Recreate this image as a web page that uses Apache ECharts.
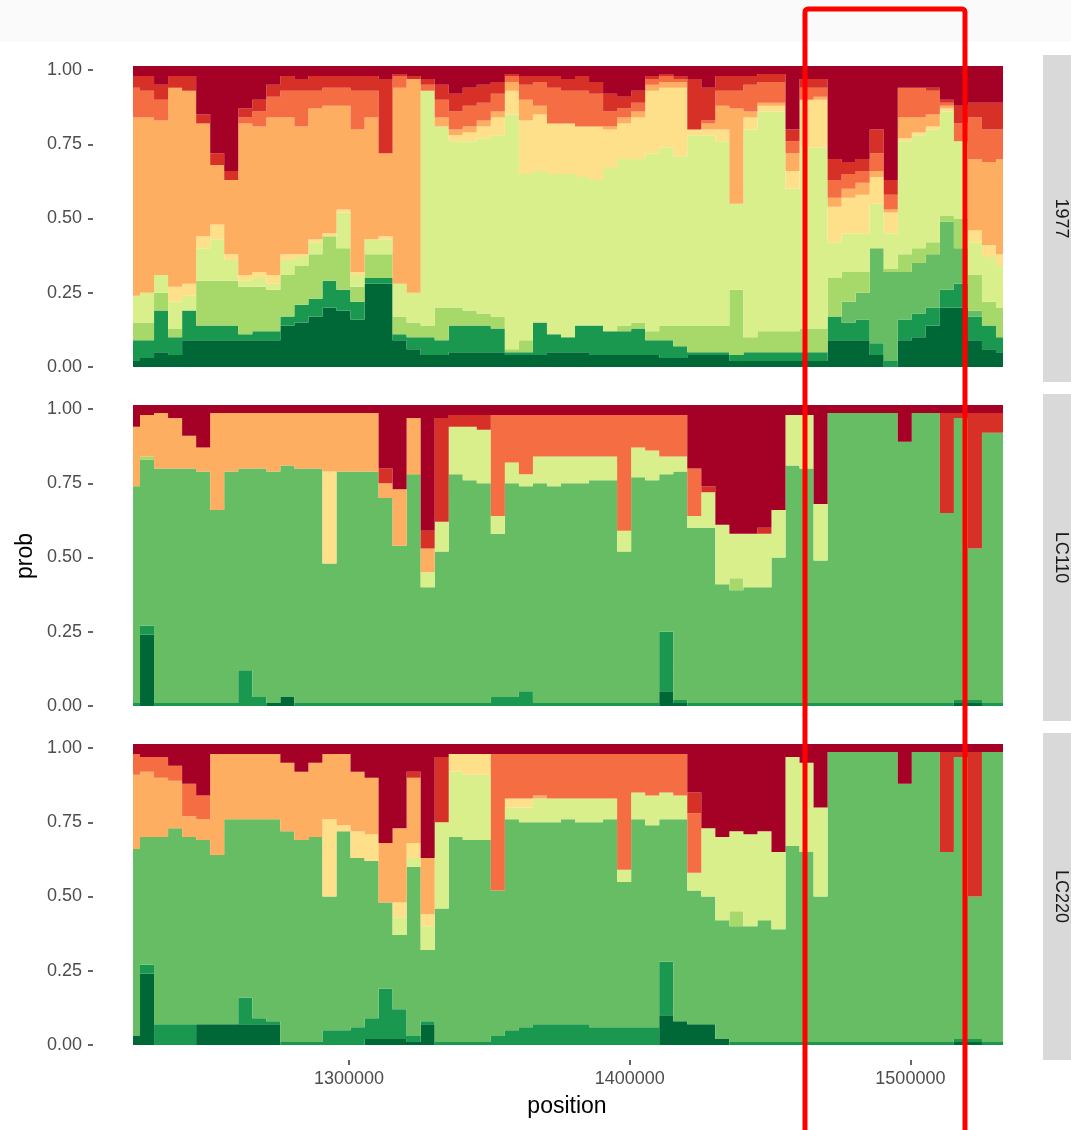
<!DOCTYPE html>
<html><head><meta charset="utf-8">
<script src="https://cdn.jsdelivr.net/npm/echarts@6/dist/echarts.min.js"></script>
<style>html,body{margin:0;padding:0;background:#fff}#c{width:1071px;height:1130px}</style>
</head><body><div id="c"></div>
<script>
// sample positions (bp)
const positions = [1223000,1228000,1233000,1238000,1243000,1248000,1253000,1258000,1263000,1268000,
1273000,1278000,1283000,1288000,1293000,1298000,1303000,1308000,1313000,1318000,
1323000,1328000,1333000,1338000,1343000,1348000,1353000,1358000,1363000,1368000,
1373000,1378000,1383000,1388000,1393000,1398000,1403000,1408000,1413000,1418000,
1423000,1428000,1433000,1438000,1443000,1448000,1453000,1458000,1463000,1468000,
1473000,1478000,1483000,1488000,1493000,1498000,1503000,1508000,1513000,1518000,
1523000,1528000,1533000];
const facets = ['1977','LC110','LC220'];
const colors = ['#006837','#1a9850','#66bd63','#a6d96a','#d9ef8b','#fee08b','#fdae61','#f46d43','#d73027','#a50026'];
const yTicks = [0,0.25,0.5,0.75,1];
const xTicks = [1300000,1400000,1500000];

// prob (percent), component 0 (bottom, dark green) ... component 9 (top, dark red)
const v1977_0 = [2,3,5,4,9,9,9,9,9,9, 9,14,15,17,20,19,16,28,28,9, 6,4,4,5,5,5,5,4,4,4, 5,5,5,4,4,4,4,4,3,3, 4,4,4,2,2,2,2,2,2,2, 9,9,9,4,0,9,10,14,20,20, 9,6,5];
const v1977_1 = [7,6,14,6,10,5,5,5,2,3, 3,3,6,6,9,7,6,2,2,2, 4,6,5,9,9,9,8,1,1,11, 6,5,9,10,8,8,9,5,6,4, 1,1,1,2,3,3,3,3,3,3, 8,6,7,4,2,7,8,6,6,8, 8,8,5];
const v1977_2 = [0,0,0,0,0,0,0,0,0,0, 0,0,0,0,0,0,0,0,0,0, 0,0,0,0,0,0,0,0,0,0, 0,0,0,0,0,0,0,0,0,0, 0,0,0,0,0,0,0,0,0,0, 0,7,9,32,30,16,17,18,23,12, 2,0,0];
const v1977_3 = [6,6,6,3,0,15,15,15,16,15, 14,14,13,15,15,14,5,8,8,6, 5,4,11,6,5,4,4,1,4,0, 0,0,0,0,0,2,2,3,5,7, 9,9,9,22,5,7,7,7,8,8, 13,10,7,0,1,6,5,4,2,10, 12,8,10];
const v1977_4 = [9,10,6,9,5,11,14,7,2,3, 2,5,3,4,0,12,4,5,5,11, 10,79,61,56,57,59,61,79,56,51, 54,55,50,49,55,56,55,60,60,57, 64,64,62,29,70,74,74,48,61,61, 12,13,13,15,12,38,38,38,35,26, 11,15,14];
const v1977_5 = [0,0,0,5,4,4,5,2,2,2, 3,2,1,1,1,1,1,0,1,0, 0,0,0,2,3,4,6,8,18,19, 17,17,17,18,13,12,14,21,20,23, 2,2,4,0,4,2,2,6,16,16, 12,12,13,9,7,1,1,1,1,0, 4,4,4];
const v1977_6 = [60,59,52,67,65,38,20,25,51,49, 53,46,43,44,43,35,48,41,28,66, 72,0,3,2,2,2,2,3,7,3, 0,0,0,0,1,2,2,2,2,2, 0,2,8,32,2,1,1,6,0,1, 3,3,4,2,1,7,5,4,1,0, 24,28,32];
const v1977_7 = [10,9,7,0,0,0,0,0,2,5, 7,9,12,6,6,6,13,9,0,4, 0,2,6,6,7,6,6,2,5,8, 12,11,12,11,5,3,3,2,2,1, 0,1,5,6,9,7,7,4,4,3, 6,5,4,6,5,10,10,8,1,6, 14,11,10];
const v1977_8 = [4,5,5,4,5,3,4,3,3,4, 4,5,4,5,4,4,5,5,25,1, 1,2,5,6,6,6,4,1,3,2, 4,4,5,4,6,4,4,1,1,1, 17,11,5,5,3,3,3,4,3,3, 7,4,4,8,5,0,0,1,1,6, 5,9,9];
const v1977_9 = [2,2,5,2,2,15,28,34,13,10, 5,2,3,2,2,2,2,2,3,1, 2,3,5,8,6,5,4,1,2,2, 2,3,2,4,8,9,7,2,1,2, 3,6,2,2,2,1,1,20,3,3, 30,31,30,20,37,6,6,6,10,12, 11,11,11];

const vLC110_0 = [0,24,0,0,0,0,0,0,0,0, 1,3,0,0,0,0,0,0,0,0, 0,0,0,0,0,0,0,0,0,0, 0,0,0,0,0,0,0,0,5,1, 0,0,0,0,0,0,0,0,0,0, 0,0,0,0,0,0,0,0,0,1, 1,0,0];
const vLC110_1 = [1,3,1,1,1,1,1,1,12,3, 0,0,1,1,1,1,1,1,1,1, 1,1,1,1,1,1,3,3,5,1, 1,1,1,1,1,1,1,1,20,1, 1,1,1,1,1,1,1,1,1,1, 1,1,1,1,1,1,1,1,1,1, 1,1,1];
const vLC110_2 = [73,56,79,79,79,78,65,78,68,77, 78,78,79,79,47,78,78,78,69,53, 77,39,51,77,75,74,55,72,69,74, 73,74,74,75,75,51,76,75,53,77, 59,59,40,38,39,39,49,80,79,48, 98,98,98,98,98,88,98,98,64,95, 51,91,91];
const vLC110_3 = [0,1,0,0,0,0,0,0,0,0, 0,0,0,0,0,0,0,0,0,0, 0,0,0,0,0,0,0,0,0,0, 0,0,0,0,0,0,0,0,0,0, 0,0,0,4,0,0,0,0,0,0, 0,0,0,0,0,0,0,0,0,0, 0,0,0];
const vLC110_4 = [0,0,0,0,0,0,0,0,0,0, 0,0,0,0,0,0,0,0,0,0, 0,5,10,16,18,18,6,7,4,9, 10,9,9,8,8,7,10,10,6,5, 4,12,20,15,18,18,16,17,18,19, 0,0,0,0,0,0,0,0,0,0, 0,0,0];
const vLC110_5 = [0,0,0,0,0,0,0,0,0,0, 0,0,0,0,31,0,0,0,0,0, 0,0,0,0,0,0,0,0,0,0, 0,0,0,0,0,0,0,0,0,0, 0,0,0,0,0,0,0,0,0,0, 0,0,0,0,0,0,0,0,0,0, 0,0,0];
const vLC110_6 = [20,14,19,17,11,8,33,20,19,19, 20,18,19,19,20,20,20,20,5,19, 19,8,0,0,0,0,0,0,0,0, 0,0,0,0,0,0,0,0,0,0, 0,0,0,0,0,0,0,0,0,0, 0,0,0,0,0,0,0,0,0,0, 0,0,0];
const vLC110_7 = [0,0,0,0,0,0,0,0,0,0, 0,0,0,0,0,0,0,0,0,0, 0,0,0,0,0,0,34,16,20,14, 14,14,14,14,14,39,11,12,14,14, 16,0,0,0,0,0,0,0,0,0, 0,0,0,0,0,0,0,0,0,0, 0,0,0];
const vLC110_8 = [0,0,0,0,0,0,0,0,0,0, 0,0,0,0,0,0,0,0,5,0, 0,6,35,4,4,5,0,0,0,0, 0,0,0,0,0,0,0,0,0,0, 0,2,0,0,0,2,0,0,0,0, 0,0,0,0,0,0,0,0,34,2, 46,7,7];
const vLC110_9 = [6,2,1,3,9,13,1,1,1,1, 1,1,1,1,1,1,1,1,20,27, 3,41,3,2,2,2,2,2,2,2, 2,2,2,2,2,2,2,2,2,2, 20,26,39,42,42,40,34,2,2,32, 1,1,1,1,1,11,1,1,1,1, 1,1,1];

const vLC220_0 = [3,24,0,0,0,7,7,7,7,7, 7,0,0,0,0,0,0,2,2,2, 1,7,0,0,0,0,0,0,0,0, 0,0,0,0,0,0,0,0,10,8, 7,7,2,0,0,0,0,0,0,0, 0,0,0,0,0,0,0,0,0,1, 1,0,0];
const vLC220_1 = [0,3,7,7,7,0,0,0,9,2, 1,1,1,1,5,5,6,7,17,10, 2,1,1,1,1,1,3,5,6,7, 7,7,7,6,6,6,6,6,18,0, 0,0,0,1,1,1,1,1,1,1, 1,1,1,1,1,1,1,1,1,1, 1,1,1];
const vLC220_2 = [63,43,63,66,63,62,57,69,60,67, 68,71,68,69,45,67,57,53,29,25, 57,24,45,69,68,68,49,71,69,68, 68,69,68,69,70,49,70,68,48,68, 45,43,40,39,39,41,38,66,64,49, 98,98,98,98,98,87,98,98,64,95, 48,98,98];
const vLC220_3 = [0,0,0,0,0,0,0,0,0,0, 0,0,0,0,0,0,0,0,0,0, 0,0,0,0,0,0,0,0,0,0, 0,0,0,0,0,0,0,0,0,0, 0,0,0,5,0,0,0,0,0,0, 0,0,0,0,0,0,0,0,0,0, 0,0,0];
const vLC220_4 = [0,0,0,0,0,0,0,0,0,0, 0,0,0,0,0,0,0,0,0,6, 3,8,29,22,22,22,0,4,5,8, 8,7,8,8,7,4,9,10,9,8, 6,23,28,27,31,30,26,30,30,30, 0,0,0,0,0,0,0,0,0,0, 0,0,0];
const vLC220_5 = [0,0,0,0,0,0,0,0,0,0, 0,0,0,0,26,2,9,9,0,5, 5,4,0,6,7,7,0,3,3,0, 0,0,0,0,0,0,0,0,0,0, 0,0,0,0,0,0,0,0,0,0, 0,0,0,0,0,0,0,0,0,0, 0,0,0];
const vLC220_6 = [25,22,20,16,7,7,34,22,22,22, 22,23,23,25,22,24,20,19,20,25, 22,19,0,0,0,0,0,0,0,1, 0,0,0,0,0,0,0,0,0,0, 0,0,0,0,0,0,0,0,0,0, 0,0,0,0,0,0,0,0,0,0, 0,0,0];
const vLC220_7 = [7,5,7,5,11,8,0,0,0,0, 0,0,0,0,0,0,0,0,0,0, 0,0,0,0,0,0,46,15,15,14, 15,15,15,15,15,39,13,14,13,14, 20,0,0,0,0,0,0,0,0,0, 0,0,0,0,0,0,0,0,0,0, 0,0,0];
const vLC220_8 = [0,0,0,0,0,0,0,0,0,0, 0,0,0,0,0,0,0,0,0,0, 2,0,22,0,0,0,0,0,0,0, 0,0,0,0,0,0,0,0,0,0, 7,0,0,0,0,0,0,0,0,0, 0,0,0,0,0,0,0,0,34,2, 49,0,0];
const vLC220_9 = [2,3,3,6,12,16,2,2,2,2, 2,5,8,5,2,2,8,10,32,27, 8,37,3,2,2,2,2,2,2,2, 2,2,2,2,2,2,2,2,2,2, 15,27,30,28,29,28,35,3,5,20, 1,1,1,1,1,12,1,1,1,1, 1,1,1];

const panelData = [
  [v1977_0,v1977_1,v1977_2,v1977_3,v1977_4,v1977_5,v1977_6,v1977_7,v1977_8,v1977_9],
  [vLC110_0,vLC110_1,vLC110_2,vLC110_3,vLC110_4,vLC110_5,vLC110_6,vLC110_7,vLC110_8,vLC110_9],
  [vLC220_0,vLC220_1,vLC220_2,vLC220_3,vLC220_4,vLC220_5,vLC220_6,vLC220_7,vLC220_8,vLC220_9]
];

const FONT = 'Liberation Sans';
const tops = [66, 405, 744];
const H = 304;
const chart = echarts.init(document.getElementById('c'), null, {renderer:'canvas'});

const grids = tops.map(t => ({left:133, width:870, top:t, height:H}));
// category axes carry the samples (hidden); one value axis draws the position ticks
const xAxes = tops.map((t,p) => ({
  type:'category', gridIndex:p, position:'bottom', data:positions.map(String), boundaryGap:false,
  axisLine:{show:false}, axisTick:{show:false}, axisLabel:{show:false}, splitLine:{show:false}
}));
xAxes.push({
  type:'value', gridIndex:2, position:'bottom', min:positions[0], max:positions[positions.length-1],
  axisLine:{show:false}, splitLine:{show:false}, offset:12,
  axisTick:{show:true, customValues:xTicks, length:5, lineStyle:{color:'#333333', width:1.5}},
  axisLabel:{show:true, customValues:xTicks, color:'#4d4d4d', fontSize:18, fontFamily:FONT, margin:10, formatter:v => String(v)}
});
const yAxes = tops.map((t,p) => ({
  type:'value', gridIndex:p, min:-0.0101, max:1.0135,
  offset:40, axisLine:{show:false}, splitLine:{show:false},
  axisTick:{show:true, customValues:yTicks, length:5, lineStyle:{color:'#333333', width:1.5}},
  axisLabel:{show:true, customValues:yTicks, color:'#4d4d4d', fontSize:18, fontFamily:FONT, margin:11, formatter:v => Number(v).toFixed(2)}
}));

const series = [];
panelData.forEach((arrs, p) => {
  arrs.forEach((vals, k) => {
    series.push({
      type:'line', xAxisIndex:p, yAxisIndex:p, stack:'panel'+p, step:'middle',
      symbol:'none', silent:true, animation:false,
      lineStyle: k === 9 ? {width:8, color:colors[k]} : {width:0, color:colors[k]},
      areaStyle:{color:colors[k], opacity:1},
      data: vals.map(v => v / 100)
    });
  });
});

const stripTop = [55, 394, 733];
const graphic = [
  {type:'rect', shape:{x:0,y:0,width:1071,height:42}, style:{fill:'#fafafa'}, silent:true, z:0}
];
stripTop.forEach((t,p) => {
  graphic.push({type:'rect', shape:{x:1043,y:t,width:40,height:327}, style:{fill:'#d9d9d9'}, silent:true, z:1});
  graphic.push({type:'text', x:1061, y:t+163.5, rotation:-Math.PI/2, z:2,
    style:{text:facets[p], fill:'#1a1a1a', font:'18px "'+FONT+'"', align:'center', verticalAlign:'middle', textAlign:'center', textVerticalAlign:'middle'}});
});
graphic.push({type:'text', x:26, y:556, rotation:Math.PI/2, z:2,
  style:{text:'prob', fill:'#000000', font:'23px "'+FONT+'"', align:'center', verticalAlign:'middle', textAlign:'center', textVerticalAlign:'middle'}});
graphic.push({type:'text', x:567, y:1107, z:2,
  style:{text:'position', fill:'#000000', font:'23px "'+FONT+'"', align:'center', verticalAlign:'middle', textAlign:'center', textVerticalAlign:'middle'}});
graphic.push({type:'rect', shape:{x:805,y:9,width:160,height:1200,r:3}, z:100, silent:true,
  style:{fill:'none', stroke:'#ff0000', lineWidth:5}});

chart.setOption({
  animation:false,
  backgroundColor:'#ffffff',
  grid:grids, xAxis:xAxes, yAxis:yAxes, series:series, graphic:graphic
});
</script>
</body></html>
